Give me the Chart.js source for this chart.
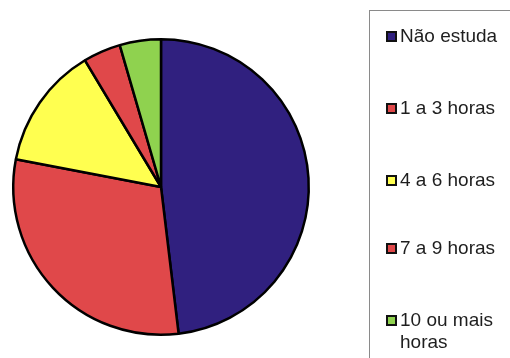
<!DOCTYPE html>
<html>
<head>
<meta charset="utf-8">
<script src="https://cdn.jsdelivr.net/npm/chart.js@4/dist/chart.umd.min.js"></script>
<style>
  html, body { margin: 0; padding: 0; background: #fff; }
  #wrap { position: relative; width: 510px; height: 358px; overflow: hidden; }
  #grafico { position: absolute; left: 0; top: 0; }
  #legenda {
    position: absolute; left: 369px; top: 10px; width: 160px; height: 360px;
    border: 1px solid #8a8a8a; box-sizing: border-box;
    font-family: "Liberation Sans", Arial, sans-serif; font-size: 19px; color: #1e1e1e;
  }
  .item { position: absolute; left: 16px; line-height: 22px; }
  .quadro {
    position: absolute; left: 0; top: 6px; width: 11px; height: 11px;
    border: 2px solid #111; box-sizing: border-box;
  }
  .texto { position: absolute; left: 14px; white-space: nowrap; }
</style>
</head>
<body>
<div id="wrap">
  <canvas id="grafico" width="510" height="358"></canvas>
  <div id="legenda"></div>
</div>
<script>
// horas de estudo por semana (%)
const categorias = ['Não estuda', '1 a 3 horas', '4 a 6 horas', '7 a 9 horas', '10 ou mais horas'];
const valores = [48.1, 29.9, 13.4, 4.1, 4.5];
const cores = ['#30207f', '#e0484a', '#ffff50', '#e0484a', '#8fd24f'];
// texto da legenda (quebrado em linhas)
const linhasLegenda = [['Não estuda'], ['1 a 3 horas'], ['4 a 6 horas'], ['7 a 9 horas'], ['10 ou mais', 'horas']];

const data = {
    labels: categorias,
    datasets: [{
        data: valores,
        backgroundColor: cores,
        borderColor: '#000',
        borderWidth: 2.5
    }]
};

const config = {
    type: 'pie',
    data: data,
    options: {
        responsive: false,
        animation: false,
        layout: { padding: { left: 12, top: 38, right: 200, bottom: 22 } },
        plugins: {
            legend: { display: false },
            tooltip: { enabled: false }
        }
    }
};

const myChart = new Chart(document.getElementById('grafico'), config);

// legenda montada a partir dos mesmos arrays
let legenda = document.getElementById('legenda');
let topos = [14, 86, 158, 226, 298];
for (let i = 0; i < categorias.length; i++) {
    let item = document.createElement('div');
    item.className = 'item';
    item.style.top = topos[i] + 'px';
    item.innerHTML = `
        <div class="quadro" style="background:${cores[i]}"></div>
        <div class="texto">${linhasLegenda[i].join('<br>')}</div>
    `;
    legenda.append(item);
}
</script>
</body>
</html>
